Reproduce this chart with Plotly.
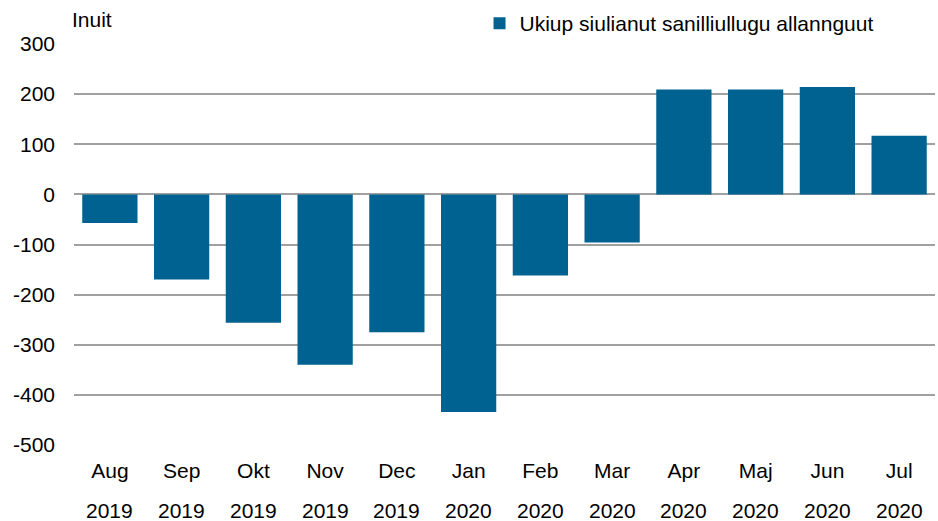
import plotly.graph_objects as go

months = ["Aug", "Sep", "Okt", "Nov", "Dec", "Jan", "Feb", "Mar", "Apr", "Maj", "Jun", "Jul"]
years = ["2019", "2019", "2019", "2019", "2019", "2020", "2020", "2020", "2020", "2020", "2020", "2020"]
values = [-57, -170, -256, -340, -275, -434, -162, -96, 209, 209, 214, 117]
series_name = "Ukiup siulianut sanilliullugu allannguut"
y_title = "Inuit"
y_ticks = [300, 200, 100, 0, -100, -200, -300, -400, -500]
y_tick_text = ["300", "200", "100", "0", "-100", "-200", "-300", "-400", "-500"]

cats = list(range(len(months)))
font = "Liberation Sans, Arial, sans-serif"
fs = 21

fig = go.Figure()
fig.add_trace(go.Bar(
    x=cats, y=values, name=series_name,
    marker=dict(color="#006291", line=dict(width=0)),
    width=0.77,
))

annotations = [dict(
    x=c, y=0, xref="x", yref="paper", text=yr, showarrow=False,
    yanchor="middle", yshift=-65, font=dict(family=font, size=fs, color="#000000"),
) for c, yr in zip(cats, years)]
annotations.append(dict(
    x=0, y=1, xref="paper", yref="paper", text=y_title, showarrow=False,
    xanchor="left", yanchor="bottom", yshift=11, xshift=-4,
    font=dict(family=font, size=fs, color="#000000"),
))

fig.update_layout(
    width=938, height=521,
    margin=dict(l=74, r=3, t=44, b=76, autoexpand=False),
    paper_bgcolor="white", plot_bgcolor="white",
    showlegend=True,
    legend=dict(x=0.471, y=1, xanchor="left", yanchor="bottom",
                font=dict(family=font, size=fs, color="#000000"),
                bgcolor="rgba(0,0,0,0)", itemclick=False),
    annotations=annotations,
    xaxis=dict(
        tickmode="array", tickvals=cats, ticktext=months,
        range=[-0.5, len(months) - 0.5],
        showgrid=False, zeroline=False, showline=False, ticks="",
        tickfont=dict(family=font, size=fs, color="#000000"),
        ticklabelstandoff=11,
    ),
    yaxis=dict(
        range=[-500, 300], tickmode="array", tickvals=y_ticks, ticktext=y_tick_text,
        showgrid=True, gridcolor="#A0A0A0", gridwidth=1.5,
        zeroline=True, zerolinecolor="#A0A0A0", zerolinewidth=1.5,
        showline=False, ticks="",
        tickfont=dict(family=font, size=fs, color="#000000"),
        ticklabelstandoff=18,
    ),
)

fig.write_html("out.html", config={"displayModeBar": False},
               post_script="document.body.style.margin='0';document.body.style.overflow='hidden';")
